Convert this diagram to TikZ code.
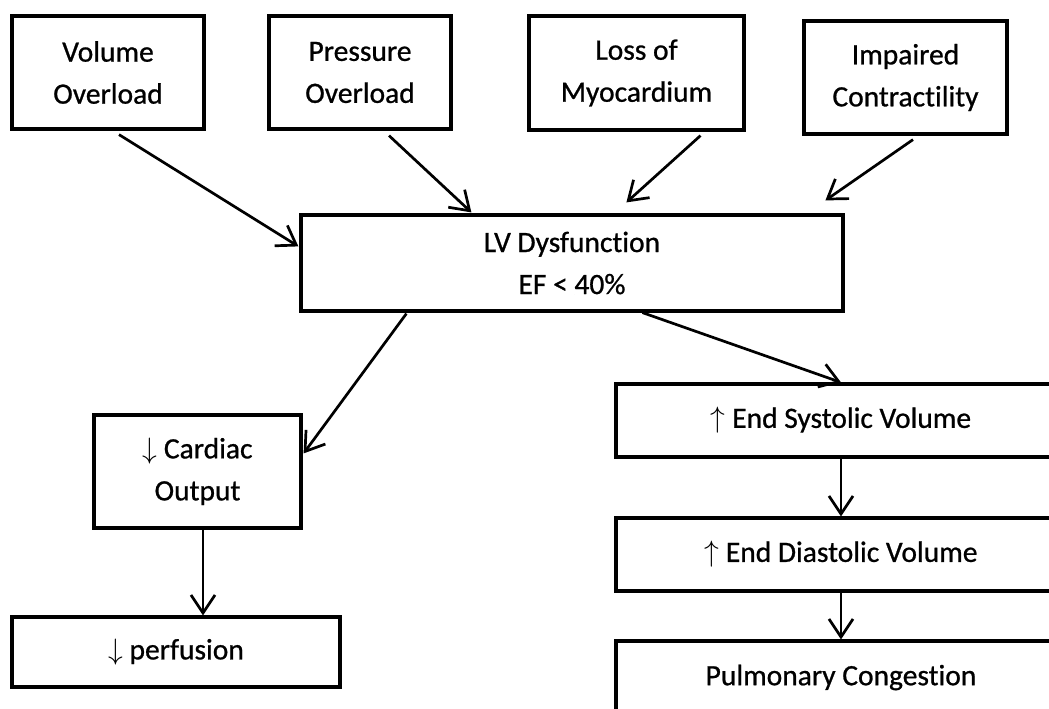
\RequirePackage{fix-cm}
\documentclass[tikz,border=0pt]{standalone}
\usepackage{fontspec}
\setmainfont{Carlito}[Ligatures=NoCommon, FakeBold=0.8]
\usetikzlibrary{arrows.meta,calc}
\newcommand\fs{\fontsize{29.5}{42}\selectfont}
\begin{document}
\begin{tikzpicture}[x=1pt,y=-1pt,
  box/.style={draw, line width=3.2pt, inner sep=0pt, align=center, font=\fs},
  conn/.style={line width=2.7pt, -{Straight Barb[length=18pt,width=24pt]}}]
\useasboundingbox (0,0) rectangle (1049,709);
\clip (0,0) rectangle (1049,709);
\node[box, minimum width=192pt, minimum height=113pt] (vol) at (108,72.5) {Volume\\Overload};
\node[box, minimum width=182pt, minimum height=113pt] (pres) at (360,72.5) {Pressure\\Overload};
\node[box, minimum width=215pt, minimum height=114pt] (loss) at (636.5,73) {Loss of\\Myocardium};
\node[box, minimum width=203pt, minimum height=113pt] (imp) at (905.5,77.5) {Impaired\\Contractility};
\node[box, minimum width=542pt, minimum height=96pt] (lv) at (572,263) {LV Dysfunction\\EF {\textless} 40\%};
\node[box, minimum width=207pt, minimum height=113pt] (card) at (197.5,471.5) {$\downarrow$ Cardiac\\Output};
\node[box, minimum width=328pt, minimum height=70pt] (perf) at (176,652) {$\downarrow$ perfusion};
\node[box, minimum width=450pt, minimum height=73pt] (esv) at (841,420.5) {$\uparrow$ End Systolic Volume};
\node[box, minimum width=450pt, minimum height=73pt] (edv) at (841,554.5) {$\uparrow$ End Diastolic Volume};
\node[box, minimum width=450pt, minimum height=73pt] (pulm) at (841,677.5) {Pulmonary Congestion};

\draw[conn] ($(vol.south)+(11,4)$) -- ($(lv.north west)+(-1,33)$);
\draw[conn] ($(pres.south)+(29,5)$) -- ($(lv.north west)+(172,-1)$);
\draw[conn] ($(loss.south)+(64,4)$) -- ($(lv.north west)+(327,-11)$);
\draw[conn] ($(imp.south)+(7.5,4)$) -- ($(lv.north west)+(526,-13)$);
\draw[conn] ($(lv.south west)+(107,1)$) -- ($(card.north east)+(1,40)$);
\draw[conn] ($(lv.south west)+(343,0)$) -- (esv.north);
\coordinate (cp) at ($(card.south)+(5.5,0)$);
\draw[conn] (cp) -- (cp |- perf.north);
\draw[conn] (esv.south) -- (edv.north);
\draw[conn] (edv.south) -- (pulm.north);
\end{tikzpicture}
\end{document}
